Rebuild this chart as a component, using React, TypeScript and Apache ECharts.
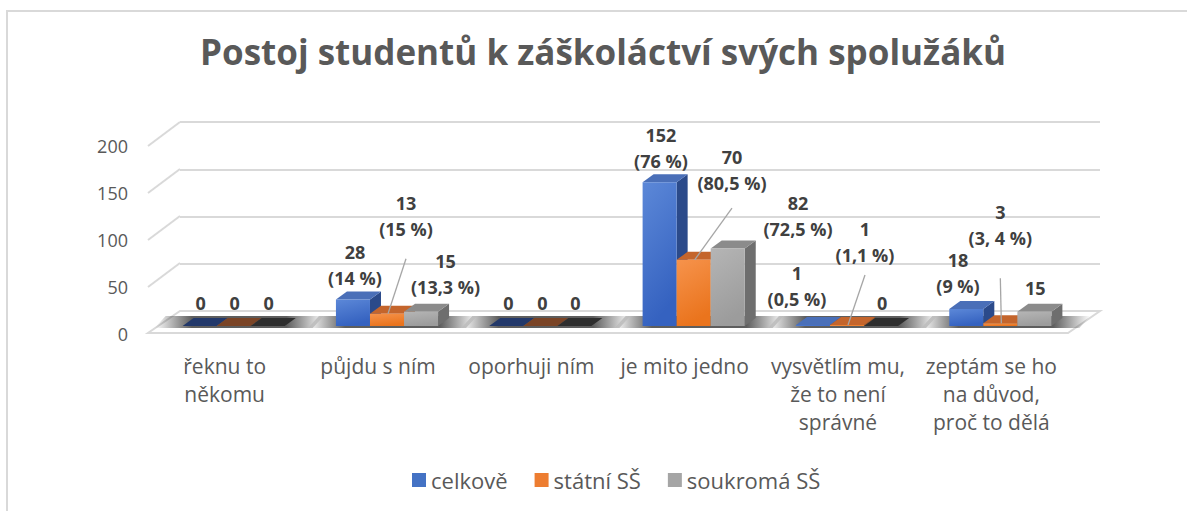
import React, { useEffect, useRef } from 'react';
import * as echarts from 'echarts';

// ---------------- data ----------------
const categories = [
  'řeknu to\nněkomu',
  'půjdu s ním',
  'oporhuji ním',
  'je mito jedno',
  'vysvětlím mu,\nže to není\nsprávné',
  'zeptám se ho\nna důvod,\nproč to dělá',
];
const seriesNames = ['celkově', 'státní SŠ', 'soukromá SŠ'];
const celkove = [0, 28, 0, 152, 1, 18];
const statni = [0, 13, 0, 70, 1, 3];
const soukroma = [0, 15, 0, 82, 0, 15];
const celkovePct = ['', '14 %', '', '76 %', '0,5 %', '9 %'];
const statniPct = ['', '15 %', '', '80,5 %', '1,1 %', '3, 4 %'];
const soukromaPct = ['', '13,3 %', '', '72,5 %', '', ''];
const yTicks = [0, 50, 100, 150, 200];
const titleText = 'Postoj studentů k záškoláctví svých spolužáků';

const values = [celkove, statni, soukroma];
const pcts = [celkovePct, statniPct, soukromaPct];

// ---------------- layout / style ----------------
// label placement relative to the bar's top front centre: [dx, dy, leaderStartDy]
const labelLayout = [
  [[1, -23, 0], [2, -34.5, 0], [2, -23, 0], [1.3, -34.6, 0], [-16, -39.5, 0], [-8.3, -35.5, 0]],
  [[1, -23, 0], [19, -98, 43], [2, -23, 0], [38.3, -89.7, 38], [18, -83, 33], [0, -98, 53]],
  [[1, -23, 0], [24.5, -38, 0], [1, -23, 0], [70.3, -33, 0], [1, -23, 0], [1, -24, 0]],
];

const palette = [
  { front: ['#5c88d8', '#3562c0'], side: '#2b4a8a', top: '#4a6fb8', zero: '#22386a', legend: '#4472C4' },
  { front: ['#f6934c', '#ea741d'], side: '#b0561b', top: '#c4652c', zero: '#7a4426', legend: '#ED7D31' },
  { front: ['#b5b5b5', '#9c9c9c'], side: '#6e6e6e', top: '#8b8b8b', zero: '#2e2e2e', legend: '#A5A5A5' },
];

const FONT = '"Open Sans", "Noto Sans", sans-serif';
const DEPTH_X = 11;
const DEPTH_Y = -8;

function makeBarSeries(s: number) {
  const pal = palette[s];
  return {
    type: 'custom',
    name: seriesNames[s],
    xAxisIndex: 2,
    yAxisIndex: 2,
    z: 4,
    itemStyle: { color: pal.legend },
    data: values[s].map((v, i) => [i, v]),
    renderItem: (params: any, api: any) => {
      const i = api.value(0);
      const v = api.value(1);
      const base = api.coord([i, 0]);
      const top = api.coord([i, v]);
      const band = api.size([1, 0])[0];
      const w = band * 0.222;
      const x0 = base[0] - 1.5 * w + s * w;
      const yb = base[1];
      const yt = top[1];
      const children: any[] = [];
      if (v > 0) {
        children.push({
          type: 'polygon',
          shape: { points: [[x0 + w, yt], [x0 + w + DEPTH_X, yt + DEPTH_Y], [x0 + w + DEPTH_X, yb + DEPTH_Y], [x0 + w, yb]] },
          style: { fill: pal.side },
        });
        children.push({
          type: 'polygon',
          shape: { points: [[x0, yt], [x0 + DEPTH_X, yt + DEPTH_Y], [x0 + w + DEPTH_X, yt + DEPTH_Y], [x0 + w, yt]] },
          style: { fill: pal.top },
        });
        children.push({
          type: 'rect',
          shape: { x: x0, y: yt, width: w, height: yb - yt },
          style: {
            fill: new echarts.graphic.LinearGradient(0, 0, 0.3, 1, [
              { offset: 0, color: pal.front[0] },
              { offset: 1, color: pal.front[1] },
            ]),
          },
        });
      } else {
        children.push({
          type: 'polygon',
          shape: { points: [[x0, yt], [x0 + DEPTH_X, yt + DEPTH_Y], [x0 + w + DEPTH_X, yt + DEPTH_Y], [x0 + w, yt]] },
          style: { fill: pal.zero },
        });
      }
      const lay = labelLayout[s][i];
      const cx = x0 + w / 2;
      const lx = cx + lay[0];
      const ly = yt + lay[1];
      const pct = pcts[s][i];
      const txt = pct ? `${v}\n(${pct})` : `${v}`;
      children.push({
        type: 'text',
        x: lx,
        y: ly,
        style: {
          text: txt,
          fill: '#404040',
          font: `bold 18px ${FONT}`,
          align: 'center',
          verticalAlign: 'middle',
          lineHeight: 26,
        },
      });
      if (lay[2]) {
        children.push({
          type: 'line',
          shape: { x1: lx, y1: ly + lay[2], x2: cx + 1, y2: yt },
          style: { stroke: '#a6a6a6', lineWidth: 1.3 },
        });
      }
      return { type: 'group', children };
    },
  };
}

export default function App() {
  const ref = useRef<HTMLDivElement>(null);
  useEffect(() => {
    if (!ref.current) return;
    const chart = echarts.init(ref.current, undefined, { renderer: 'svg' });
    const option: any = {
      animation: false,
      backgroundColor: '#ffffff',
      title: {
        text: titleText,
        left: 200,
        top: 34,
        padding: 0,
        textStyle: { fontFamily: FONT, fontWeight: 'bold', fontSize: 35, color: '#595959' },
      },
      legend: {
        data: seriesNames,
        left: 407,
        top: 464,
        icon: 'rect',
        itemWidth: 14,
        itemHeight: 14,
        itemGap: 27,
        textStyle: { fontFamily: FONT, fontSize: 22, color: '#595959' },
      },
      graphic: [
        {
          type: 'rect',
          shape: { x: 7, y: 11, width: 1400, height: 700 },
          style: { fill: 'none', stroke: '#d9d9d9', lineWidth: 2 },
          silent: true,
        },
      ],
      grid: [
        // back wall
        { left: 180, right: 87, top: 122, bottom: 200 },
        // front plane (labels)
        { left: 148, right: 119, top: 146, bottom: 177 },
        // bars
        { left: 157, right: 110, top: 137, bottom: 185 },
      ],
      xAxis: [
        { gridIndex: 0, type: 'category', data: categories, show: false },
        {
          gridIndex: 1,
          type: 'category',
          data: categories,
          axisLine: { show: false },
          axisTick: { show: false },
          axisLabel: {
            interval: 0,
            margin: 18,
            fontFamily: FONT,
            fontSize: 21,
            lineHeight: 28,
            color: '#595959',
          },
        },
        { gridIndex: 2, type: 'category', data: categories, show: false },
      ],
      yAxis: [
        {
          gridIndex: 0,
          type: 'value',
          min: 0,
          max: 200,
          interval: 50,
          axisLabel: { show: false },
          axisLine: { show: false },
          axisTick: { show: false },
          splitLine: { show: true, lineStyle: { color: '#d9d9d9', width: 2 } },
        },
        {
          gridIndex: 1,
          type: 'value',
          min: 0,
          max: 200,
          interval: 50,
          axisLine: { show: false },
          axisTick: { show: false },
          splitLine: { show: false },
          axisLabel: { margin: 20, fontFamily: FONT, fontSize: 18, color: '#595959' },
        },
        { gridIndex: 2, type: 'value', min: 0, max: 200, interval: 50, show: false, splitLine: { show: false } },
      ],
      series: [
        {
          type: 'custom',
          name: 'floor',
          xAxisIndex: 1,
          yAxisIndex: 1,
          z: 1,
          silent: true,
          data: yTicks.map((t) => [0, t]),
          renderItem: (params: any, api: any) => {
            const cs = params.coordSys;
            const t = api.value(1);
            const y = api.coord([0, t])[1];
            if (t === 0) {
              return {
                type: 'polygon',
                shape: {
                  points: [
                    [cs.x, y - 1],
                    [cs.x + cs.width, y - 1],
                    [cs.x + cs.width + 32, y - 23],
                    [cs.x + 32, y - 23],
                  ],
                },
                style: { fill: '#ffffff', stroke: '#d9d9d9', lineWidth: 2 },
              };
            }
            return {
              type: 'line',
              shape: { x1: cs.x, y1: y, x2: cs.x + 32, y2: y - 24 },
              style: { stroke: '#d9d9d9', lineWidth: 2 },
            };
          },
        },
        {
          type: 'custom',
          name: 'shadow',
          xAxisIndex: 2,
          yAxisIndex: 2,
          z: 2,
          silent: true,
          data: categories.map((_, i) => [i, 0]),
          renderItem: (params: any, api: any) => {
            const i = api.value(0);
            const base = api.coord([i, 0]);
            const band = api.size([1, 0])[0];
            const w = band * 0.222;
            const xl = base[0] - 1.5 * w - 28;
            const xr = base[0] + 1.5 * w + 28;
            const yb = base[1];
            return {
              type: 'polygon',
              shape: {
                points: [
                  [xl, yb + 2],
                  [xr, yb + 2],
                  [xr + DEPTH_X, yb + DEPTH_Y - 2],
                  [xl + DEPTH_X, yb + DEPTH_Y - 2],
                ],
              },
              style: {
                fill: new echarts.graphic.LinearGradient(0, 0, 1, 0, [
                  { offset: 0, color: 'rgba(40,40,40,0)' },
                  { offset: 0.22, color: 'rgba(40,40,40,0.75)' },
                  { offset: 0.78, color: 'rgba(40,40,40,0.75)' },
                  { offset: 1, color: 'rgba(40,40,40,0)' },
                ]),
              },
            };
          },
        },
        makeBarSeries(0),
        makeBarSeries(1),
        makeBarSeries(2),
      ],
    };
    chart.setOption(option);
    return () => chart.dispose();
  }, []);
  return (
    <div
      ref={ref}
      style={{ position: 'fixed', left: 0, top: 0, width: 1187, height: 511, background: '#fff' }}
    />
  );
}
